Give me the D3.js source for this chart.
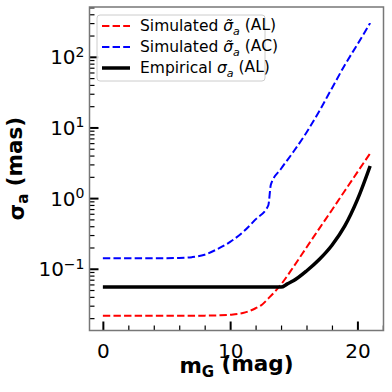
<!DOCTYPE html>
<html>
<head>
<meta charset="utf-8">
<script src="https://cdn.jsdelivr.net/npm/d3@7"></script>
<style>
  body { margin: 0; background: #fff; }
  text { font-family: "DejaVu Sans", sans-serif; }
</style>
</head>
<body>
<svg width="392" height="392"></svg>
<script>
// values (magnitude vs sigma in mas)
const alMag = [0, 2, 4, 6, 8, 9, 10, 11, 12, 12.5, 13, 13.5, 14, 15, 16, 17, 18, 19, 20, 21]
const alSim = [0.0216, 0.0216, 0.0216, 0.0216, 0.0217, 0.0219, 0.0223, 0.0236, 0.0276, 0.031, 0.038, 0.047, 0.060, 0.108, 0.20, 0.37, 0.68, 1.26, 2.33, 4.3]

const acMag = [0, 2, 4, 6, 7, 8, 9, 10, 11, 12, 13, 13.2, 14, 15, 16, 17, 18, 19, 20, 21]
const acSim = [0.141, 0.141, 0.141, 0.142, 0.146, 0.158, 0.19, 0.24, 0.33, 0.50, 0.79, 1.55, 2.6, 4.6, 8.5, 17, 36, 76, 150, 300]

const empMag = [0, 14, 14.5, 15, 16, 17, 18, 19, 20, 21]
const empVal = [0.055, 0.055, 0.061, 0.068, 0.093, 0.135, 0.215, 0.40, 0.95, 2.85]

const xMajor = [0, 10, 20]
const yMajor = [0.1, 1, 10, 100]

const series = [
  {label: "(AL)", tilde: true, color: "#ff0000", dash: "7.4,3.2", width: 2, xs: alMag, ys: alSim},
  {label: "(AC)", tilde: true, color: "#0000ff", dash: "7.4,3.2", width: 2, xs: acMag, ys: acSim},
  {label: "(AL)", tilde: false, color: "#000000", dash: null, width: 3.5, xs: empMag, ys: empVal}
]

const svg = d3.select("svg")
const margin = {top: 7, right: 8.5, bottom: 61.5, left: 89.5}
const width = +svg.attr("width")
const height = +svg.attr("height")
const innerWidth = width - margin.left - margin.right
const innerHeight = height - margin.top - margin.bottom

const xScale = d3.scaleLinear()
  .domain([-1.05, 22.05])
  .range([0, innerWidth])

const yScale = d3.scaleLog()
  .domain([Math.pow(10, -1.874), Math.pow(10, 2.705)])
  .range([innerHeight, 0])

const g = svg.append("g")
  .attr("transform", `translate(${margin.left}, ${margin.top})`)

// minor ticks
const xMinor = d3.range(2, 23, 2).filter(v => v % 10 !== 0)
const yMinor = []
for (let e = -2; e <= 2; e++) {
  for (let m = 2; m <= 9; m++) {
    const v = m * Math.pow(10, e)
    if (v > yScale.domain()[0] && v < yScale.domain()[1]) yMinor.push(v)
  }
}

const xAxisG = g.append("g")
  .attr("transform", `translate(0, ${innerHeight})`)
  .call(d3.axisBottom(xScale).tickValues(xMajor).tickSize(-9).tickPadding(13))
xAxisG.select(".domain").remove()
xAxisG.selectAll("line").attr("stroke-width", 2).attr("stroke", "#000")
xAxisG.selectAll("text").attr("font-size", 20).attr("fill", "#000")

const xMinorG = g.append("g")
  .attr("transform", `translate(0, ${innerHeight})`)
  .call(d3.axisBottom(xScale).tickValues(xMinor).tickSize(-5).tickFormat(""))
xMinorG.select(".domain").remove()
xMinorG.selectAll("line").attr("stroke-width", 1.2).attr("stroke", "#000")

const yAxisG = g.append("g")
  .call(d3.axisLeft(yScale).tickValues(yMajor).tickSize(-9).tickFormat(""))
yAxisG.select(".domain").remove()
yAxisG.selectAll("line").attr("stroke-width", 2).attr("stroke", "#000")
yAxisG.selectAll(".tick").append("text")
  .attr("x", -5)
  .attr("dy", "0.35em")
  .attr("text-anchor", "end")
  .attr("font-size", 20)
  .attr("fill", "#000")
  .each(function(d) {
    const t = d3.select(this)
    const e = Math.round(Math.log10(d))
    t.append("tspan").text("10")
    t.append("tspan").attr("font-size", 14).attr("dy", "-0.55em")
      .text(e < 0 ? "\u2212" + (-e) : e)
  })

const yMinorG = g.append("g")
  .call(d3.axisLeft(yScale).tickValues(yMinor).tickSize(-5).tickFormat(""))
yMinorG.select(".domain").remove()
yMinorG.selectAll("line").attr("stroke-width", 1.2).attr("stroke", "#000")

// frame
g.append("rect")
  .attr("width", innerWidth)
  .attr("height", innerHeight)
  .attr("fill", "none")
  .attr("stroke", "#777")
  .attr("stroke-width", 1.5)

// curves
const line = d3.line()
  .x(d => xScale(d[0]))
  .y(d => yScale(d[1]))
  .curve(d3.curveMonotoneX)

series.forEach(s => {
  g.append("path")
    .datum(s.xs.map((x, i) => [x, s.ys[i]]))
    .attr("fill", "none")
    .attr("stroke", s.color)
    .attr("stroke-width", s.width)
    .attr("stroke-dasharray", s.dash)
    .attr("d", line)
})

// legend
const legend = g.append("g").attr("transform", "translate(7.5, 8)")
legend.append("rect")
  .attr("width", 168)
  .attr("height", 66)
  .attr("rx", 3)
  .attr("fill", "#fff")
  .attr("fill-opacity", 0.8)
  .attr("stroke", "#ccc")
  .attr("stroke-width", 1)

series.forEach((s, i) => {
  const row = legend.append("g").attr("transform", `translate(0, ${11 + i * 21})`)
  row.append("line")
    .attr("x1", 5).attr("x2", 33)
    .attr("stroke", s.color)
    .attr("stroke-width", s.width)
    .attr("stroke-dasharray", s.dash)
  const t = row.append("text")
    .attr("x", 43)
    .attr("dy", "0.35em")
    .attr("font-size", 15.5)
  t.append("tspan").text(s.tilde ? "Simulated " : "Empirical ")
  t.append("tspan").attr("font-style", "italic").text(s.tilde ? "\u03c3\u0303" : "\u03c3")
  t.append("tspan").attr("font-style", "italic").attr("font-size", 11).attr("dy", "0.3em").text("a")
  t.append("tspan").attr("dy", "-0.3em").text(" " + s.label)
})

// axis labels
const xl = svg.append("text")
  .attr("x", margin.left + innerWidth / 2)
  .attr("y", 373)
  .attr("text-anchor", "middle")
  .attr("font-size", 21.5)
  .attr("font-weight", "bold")
xl.append("tspan").text("m")
xl.append("tspan").attr("font-size", 15).attr("dy", "0.25em").text("G")
xl.append("tspan").attr("dy", "-0.25em").text(" (mag)")

const yl = svg.append("text")
  .attr("transform", `translate(24, ${margin.top + innerHeight / 2}) rotate(-90)`)
  .attr("text-anchor", "middle")
  .attr("font-size", 21.5)
  .attr("font-weight", "bold")
yl.append("tspan").text("\u03c3")
yl.append("tspan").attr("font-size", 15).attr("dy", "0.25em").text("a")
yl.append("tspan").attr("dy", "-0.25em").text(" (mas)")
</script>
</body>
</html>
